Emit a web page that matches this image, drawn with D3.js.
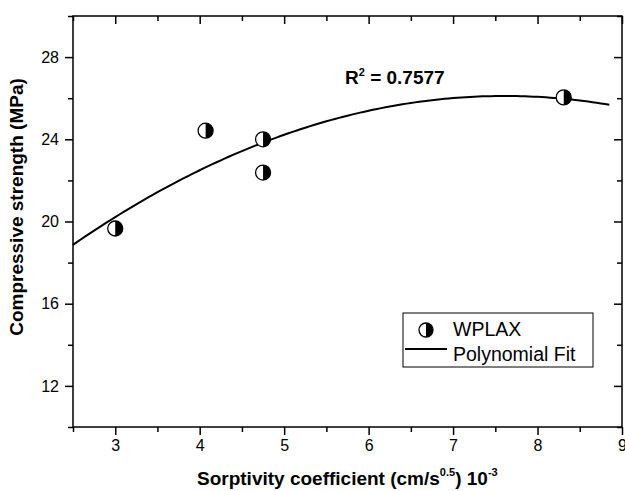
<!DOCTYPE html>
<html>
<head>
<meta charset="utf-8">
<script src="https://cdn.jsdelivr.net/npm/d3@7"></script>
<style>
  body { margin:0; background:#fff; }
  svg { display:block; font-family: "Liberation Sans", Arial, sans-serif; }
  .axis path, .axis line { stroke:#000; stroke-width:1.5; }
</style>
</head>
<body>
<script>
// data
var sorptivity = [3.0, 4.07, 4.75, 4.75, 8.31];
var strength   = [19.66, 24.42, 24.0, 22.38, 26.04];
var xTicks = [3, 4, 5, 6, 7, 8, 9];
var yTicks = [12, 16, 20, 24, 28];
var fitRange = [2.5, 8.85];

var W = 625, H = 491;
var pLeft = 73, pRight = 622, pTop = 16, pBottom = 427;

var svg = d3.select('body').append('svg')
    .attr('width', W)
    .attr('height', H);

var x = d3.scaleLinear().domain([2.5, 9]).range([pLeft, pRight]);
var y = d3.scaleLinear().domain([10, 30]).range([pBottom, pTop]);

//quadratic least squares fit
function polyFit(xs, ys){
  var n = xs.length, s = [0,0,0,0,0], t = [0,0,0];
  for (var i = 0; i < n; i++){
    var p = 1;
    for (var k = 0; k < 5; k++){ s[k] += p; if (k < 3) t[k] += p*ys[i]; p *= xs[i]; }
  }
  var A = [[s[0],s[1],s[2],t[0]],[s[1],s[2],s[3],t[1]],[s[2],s[3],s[4],t[2]]];
  for (var c = 0; c < 3; c++){
    for (var r = c+1; r < 3; r++){
      var f = A[r][c]/A[c][c];
      for (var j = c; j < 4; j++) A[r][j] -= f*A[c][j];
    }
  }
  var b = [0,0,0];
  for (var c2 = 2; c2 >= 0; c2--){
    var v = A[c2][3];
    for (var j2 = c2+1; j2 < 3; j2++) v -= A[c2][j2]*b[j2];
    b[c2] = v/A[c2][c2];
  }
  return b;
}
var coef = polyFit(sorptivity, strength);
var fitPts = d3.range(fitRange[0], fitRange[1] + 0.001, 0.05).map(function(v){
  return [v, coef[0] + coef[1]*v + coef[2]*v*v];
});

//axes
var minorX = d3.range(2.5, 9.01, 0.5).filter(function(v){ return xTicks.indexOf(v) < 0; });
var minorY = d3.range(10, 30.01, 2).filter(function(v){ return yTicks.indexOf(v) < 0; });

function addAxis(axis, tx, ty){
  var g = svg.append('g').attr('class','axis')
      .attr('transform','translate(' + tx + ',' + ty + ')')
      .call(axis);
  g.select('.domain').remove();
  g.attr('font-size', 16).attr('font-family','"Liberation Sans", Arial, sans-serif');
  g.selectAll('text').attr('fill','#000');
  return g;
}

addAxis(d3.axisBottom(x).tickValues(xTicks).tickSize(8).tickPadding(5).tickFormat(d3.format('d')), 0, pBottom);
addAxis(d3.axisBottom(x).tickValues(minorX).tickSize(5).tickFormat(''), 0, pBottom);
addAxis(d3.axisBottom(x).tickValues(xTicks).tickSize(8).tickFormat(''), 0, pTop);
addAxis(d3.axisBottom(x).tickValues(minorX).tickSize(5).tickFormat(''), 0, pTop);

addAxis(d3.axisLeft(y).tickValues(yTicks).tickSize(8).tickPadding(6), pLeft, 0);
addAxis(d3.axisLeft(y).tickValues(minorY).tickSize(5).tickFormat(''), pLeft, 0);
addAxis(d3.axisLeft(y).tickValues(yTicks).tickSize(8).tickFormat(''), pRight, 0);
addAxis(d3.axisLeft(y).tickValues(minorY).tickSize(5).tickFormat(''), pRight, 0);

svg.append('rect')
    .attr('x', pLeft).attr('y', pTop)
    .attr('width', pRight - pLeft).attr('height', pBottom - pTop)
    .attr('fill','none').attr('stroke','#000').attr('stroke-width',1.5);

//fit line
svg.append('path')
    .datum(fitPts)
    .attr('fill','none')
    .attr('stroke','#000')
    .attr('stroke-width',2)
    .attr('d', d3.line().x(function(d){ return x(d[0]); }).y(function(d){ return y(d[1]); }));

//half filled marker
function marker(g, cx, cy, r){
  g.append('circle').attr('cx',cx).attr('cy',cy).attr('r',r)
      .attr('fill','#fff').attr('stroke','#000').attr('stroke-width',1.3);
  g.append('path')
      .attr('d','M' + cx + ',' + (cy - r) + 'A' + r + ',' + r + ' 0 0 1 ' + cx + ',' + (cy + r) + 'Z')
      .attr('fill','#000');
}
var pts = svg.append('g');
sorptivity.forEach(function(v, i){ marker(pts, x(v), y(strength[i]), 7.5); });

//R2 label
var r2 = svg.append('text')
    .attr('x', 345).attr('y', 84)
    .attr('font-size', 19).attr('font-weight','bold');
r2.append('tspan').text('R');
r2.append('tspan').attr('font-size', 11).attr('dy', -8).text('2');
r2.append('tspan').attr('dy', 8).text(' = 0.7577');

//legend
var lg = svg.append('g');
lg.append('rect').attr('x',403).attr('y',313).attr('width',190).attr('height',54)
    .attr('fill','#fff').attr('stroke','#000').attr('stroke-width',1);
marker(lg, 426, 330, 7);
lg.append('line').attr('x1',405).attr('x2',447).attr('y1',349).attr('y2',349)
    .attr('stroke','#000').attr('stroke-width',2);
lg.append('text').attr('x',453).attr('y',336).attr('font-size',19.5).text('WPLAX');
lg.append('text').attr('x',453).attr('y',361).attr('font-size',19.5).text('Polynomial Fit');

//axis titles
var xt = svg.append('text')
    .attr('x', 197).attr('y', 485)
    .attr('font-size', 19).attr('font-weight','bold');
xt.append('tspan').text('Sorptivity coefficient (cm/s');
xt.append('tspan').attr('font-size', 11).attr('dy', -9).text('0.5');
xt.append('tspan').attr('dy', 9).text(') 10');
xt.append('tspan').attr('font-size', 11).attr('dy', -9).text('-3');

svg.append('text')
    .attr('transform','translate(23,' + 207 + ') rotate(-90)')
    .attr('text-anchor','middle')
    .attr('font-size', 19).attr('font-weight','bold')
    .text('Compressive strength (MPa)');
</script>
</body>
</html>
